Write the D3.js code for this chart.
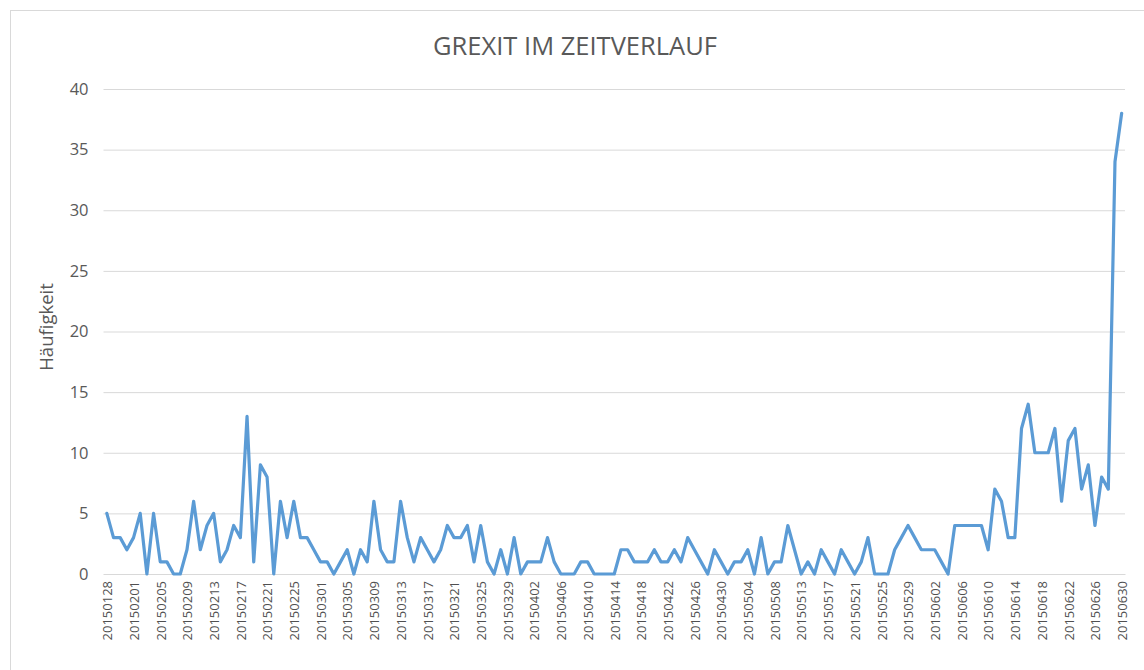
<!DOCTYPE html>
<html>
<head>
<meta charset="utf-8">
<script src="https://cdnjs.cloudflare.com/ajax/libs/d3/7.8.5/d3.min.js"></script>
<style>
  html, body { margin: 0; padding: 0; background: #fff; }
  #chart { width: 1144px; height: 670px; }
</style>
</head>
<body>
<div id="chart"></div>
<script>
// Grexit im Zeitverlauf - Häufigkeit pro Tag
const chartTitle = "GREXIT IM ZEITVERLAUF";
const yAxisTitle = "Häufigkeit";

const dates = [
    "20150128","20150129","20150130","20150131",
    "20150201","20150202","20150203","20150204","20150205","20150206","20150207","20150208","20150209","20150210",
    "20150211","20150212","20150213","20150214","20150215","20150216","20150217","20150218","20150219","20150220",
    "20150221","20150222","20150223","20150224","20150225","20150226","20150227","20150228",
    "20150301","20150302","20150303","20150304","20150305","20150306","20150307","20150308","20150309","20150310",
    "20150311","20150312","20150313","20150314","20150315","20150316","20150317","20150318","20150319","20150320",
    "20150321","20150322","20150323","20150324","20150325","20150326","20150327","20150328","20150329","20150330",
    "20150331",
    "20150401","20150402","20150403","20150404","20150405","20150406","20150407","20150408","20150409","20150410",
    "20150411","20150412","20150413","20150414","20150415","20150416","20150417","20150418","20150419","20150420",
    "20150421","20150422","20150423","20150424","20150425","20150426","20150427","20150428","20150429","20150430",
    "20150501","20150502","20150503","20150504","20150505","20150506","20150507","20150508","20150509",
    "20150511","20150512","20150513","20150514","20150515","20150516","20150517","20150518","20150519","20150520",
    "20150521","20150522","20150523","20150524","20150525","20150526","20150527","20150528","20150529","20150530",
    "20150531",
    "20150601","20150602","20150603","20150604","20150605","20150606","20150607","20150608","20150609","20150610",
    "20150611","20150612","20150613","20150614","20150615","20150616","20150617","20150618","20150619","20150620",
    "20150621","20150622","20150623","20150624","20150625","20150626","20150627","20150628","20150629","20150630"
];

const counts = [
    5,3,3,2,3,5,0,5,1,1,0,0,2,6,2,4,5,1,2,4,
    3,13,1,9,8,0,6,3,6,3,3,2,1,1,0,1,2,0,2,1,
    6,2,1,1,6,3,1,3,2,1,2,4,3,3,4,1,4,1,0,2,
    0,3,0,1,1,1,3,1,0,0,0,1,1,0,0,0,0,2,2,1,
    1,1,2,1,1,2,1,3,2,1,0,2,1,0,1,1,2,0,3,0,
    1,1,4,2,0,1,0,2,1,0,2,1,0,1,3,0,0,0,2,3,
    4,3,2,2,2,1,0,4,4,4,4,4,2,7,6,3,3,12,14,10,
    10,10,12,6,11,12,7,9,4,8,7,34,38
];

const yTicks = [0, 5, 10, 15, 20, 25, 30, 35, 40];
// every fourth day gets a label
const xTickLabels = dates.filter((d, i) => i % 4 === 0);

function createChart() {
    const W = 1144, H = 670;
    const plot = { left: 103.5, right: 1125, top: 89, bottom: 574 };
    const font = "'Open Sans', 'Liberation Sans', sans-serif";
    const textColor = "#595959";

    const data = dates.map((d, i) => ({ date: d, value: counts[i] }));

    const svg = d3.select("#chart")
        .append("svg")
        .attr("width", W)
        .attr("height", H);

    // chart frame
    svg.append("rect")
        .attr("x", 10.5)
        .attr("y", 10.5)
        .attr("width", W + 20)
        .attr("height", H + 20)
        .attr("fill", "#fff")
        .attr("stroke", "#d9d9d9")
        .attr("stroke-width", 1);

    const xScale = d3.scalePoint()
        .domain(dates)
        .range([plot.left, plot.right])
        .padding(0.5);

    const yScale = d3.scaleLinear()
        .domain([0, 40])
        .range([plot.bottom, plot.top]);

    // horizontal grid lines
    svg.append("g")
        .attr("class", "grid")
        .attr("transform", `translate(${plot.left},0)`)
        .call(d3.axisLeft(yScale)
            .tickValues(yTicks)
            .tickSize(-(plot.right - plot.left))
            .tickFormat(""))
        .call(g => g.select(".domain").remove())
        .selectAll("line")
        .attr("stroke", "#d9d9d9")
        .attr("stroke-width", 1);

    // y axis labels
    const yAxis = svg.append("g")
        .attr("class", "y-axis")
        .attr("transform", `translate(${plot.left},0)`)
        .call(d3.axisLeft(yScale)
            .tickValues(yTicks)
            .tickSize(0)
            .tickPadding(15));
    yAxis.select(".domain").remove();
    yAxis.selectAll("text")
        .attr("font-size", "16.5px")
        .attr("font-family", font)
        .attr("fill", textColor);

    // x axis with rotated date labels
    const xAxis = svg.append("g")
        .attr("class", "x-axis")
        .attr("transform", `translate(0,${plot.bottom})`)
        .call(d3.axisBottom(xScale)
            .tickValues(xTickLabels)
            .tickSize(0));
    xAxis.select(".domain")
        .attr("stroke", "#d9d9d9")
        .attr("stroke-width", 1);
    xAxis.selectAll("text")
        .attr("font-size", "13px")
        .attr("font-family", font)
        .attr("fill", "#505050")
        .attr("text-anchor", "end")
        .attr("dy", null)
        .attr("y", null)
        .attr("transform", "translate(4.8,7) rotate(-90)");

    // the line
    const line = d3.line()
        .x(d => xScale(d.date))
        .y(d => yScale(d.value));

    svg.append("path")
        .datum(data)
        .attr("fill", "none")
        .attr("stroke", "#5b9bd5")
        .attr("stroke-width", 3.2)
        .attr("stroke-linejoin", "round")
        .attr("stroke-linecap", "round")
        .attr("d", line);

    // y axis title
    svg.append("text")
        .attr("transform", "translate(53,327) rotate(-90)")
        .attr("text-anchor", "middle")
        .attr("font-size", "18.5px")
        .attr("font-family", font)
        .attr("fill", textColor)
        .text(yAxisTitle);

    // title
    svg.append("text")
        .attr("x", 575)
        .attr("y", 55)
        .attr("text-anchor", "middle")
        .attr("font-size", "25.5px")
        .attr("font-family", font)
        .attr("fill", textColor)
        .text(chartTitle);
}

createChart();
</script>
</body>
</html>
